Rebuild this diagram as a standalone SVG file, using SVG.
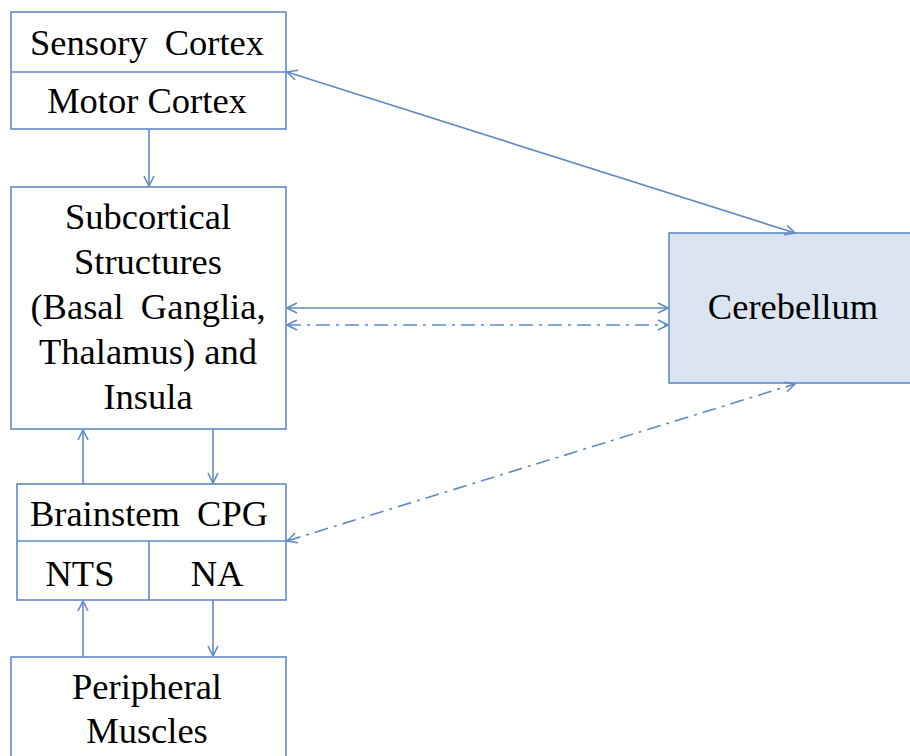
<svg xmlns="http://www.w3.org/2000/svg" width="910" height="756" viewBox="0 0 910 756">
<style>
.box{fill:#fff;stroke:#5F8BC8;stroke-width:1.6}
.cb{fill:#DBE4F1;stroke:#5F8BC8;stroke-width:1.6}
.ln{stroke:#5F8BC8;stroke-width:1.6;fill:none}
.dd{stroke-dasharray:14,6,3,6}
text{font-family:"Liberation Serif","Times New Roman",serif;font-size:36.5px;fill:#000;text-anchor:middle}
.ws{word-spacing:8px}
</style>
<defs>
<marker id="ah" viewBox="0 0 12 12" refX="11" refY="6" markerWidth="12" markerHeight="12" markerUnits="userSpaceOnUse" orient="auto-start-reverse">
<path d="M1,1 L11,6 L1,11" fill="none" stroke="#5F8BC8" stroke-width="1.6"/>
</marker>
</defs>
<rect x="0" y="0" width="910" height="756" fill="#fff"/>
<g id="cortex">
<rect class="box" x="11" y="12" width="275" height="117"/>
<line class="ln" x1="11" y1="72" x2="286" y2="72"/>
<text class="ws" x="147" y="55">Sensory Cortex</text>
<text x="147" y="113">Motor Cortex</text>
</g>
<g id="subcortical">
<rect class="box" x="11" y="187" width="275" height="242"/>
<text x="148" y="229">Subcortical</text>
<text x="148" y="274">Structures</text>
<text class="ws" x="148" y="319">(Basal Ganglia,</text>
<text x="148" y="364">Thalamus) and</text>
<text x="148" y="409">Insula</text>
</g>
<g id="cerebellum">
<rect class="cb" x="669" y="233" width="250" height="150"/>
<text x="793" y="319">Cerebellum</text>
</g>
<g id="brainstem">
<rect class="box" x="17" y="484" width="269" height="116"/>
<line class="ln" x1="17" y1="541" x2="286" y2="541"/>
<line class="ln" x1="149" y1="541" x2="149" y2="600"/>
<text class="ws" x="149" y="526">Brainstem CPG</text>
<text x="80" y="586">NTS</text>
<text x="217" y="586">NA</text>
</g>
<g id="peripheral">
<rect class="box" x="11" y="657" width="275" height="110"/>
<text x="147" y="699">Peripheral</text>
<text x="147" y="743">Muscles</text>
</g>
<g id="connectors">
<line class="ln" x1="149" y1="129" x2="149" y2="186" marker-end="url(#ah)"/>
<line class="ln" x1="287" y1="72" x2="795" y2="233" marker-start="url(#ah)" marker-end="url(#ah)"/>
<line class="ln" x1="287" y1="308" x2="668" y2="308" marker-start="url(#ah)" marker-end="url(#ah)"/>
<line class="ln dd" x1="287" y1="325" x2="668" y2="325" marker-start="url(#ah)" marker-end="url(#ah)"/>
<line class="ln" x1="83" y1="484" x2="83" y2="430" marker-end="url(#ah)"/>
<line class="ln" x1="213" y1="429" x2="213" y2="483" marker-end="url(#ah)"/>
<line class="ln dd" x1="287" y1="541" x2="795" y2="384" marker-start="url(#ah)" marker-end="url(#ah)"/>
<line class="ln" x1="83" y1="657" x2="83" y2="601" marker-end="url(#ah)"/>
<line class="ln" x1="213" y1="600" x2="213" y2="656" marker-end="url(#ah)"/>
</g>
</svg>
